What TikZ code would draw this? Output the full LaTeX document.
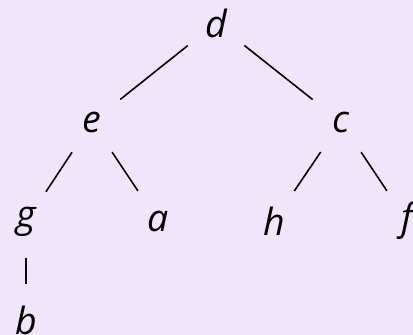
\documentclass[tikz,border=0pt]{standalone}
\usepackage{fontspec}
\setmainfont{Open Sans}
\definecolor{bgc}{RGB}{241,229,252}
\begin{document}
\begin{tikzpicture}[x=1pt,y=-1pt,
  vtx/.style={circle,minimum size=72pt,inner sep=0pt,font=\fontsize{37.5}{40}\selectfont\itshape},
  edg/.style={line width=1.6pt,black}]
\fill[bgc] (0,0) rectangle (413,335);
\useasboundingbox (0,0) rectangle (413,335);
\node[vtx] (d) at (216,23) {d};
\node[vtx] (e) at (92,122) {e};
\node[vtx] (c) at (341,122) {c};
\node[vtx] (g) at (26,222) {g};
\node[vtx] (a) at (158,221) {a};
\node[vtx] (h) at (274,221) {h};
\node[vtx] (f) at (407,221) {f};
\node[vtx] (b) at (26,320) {b};
\draw[edg] (d) -- (e);
\draw[edg] (d) -- (c);
\draw[edg] (e) -- (g);
\draw[edg] (e) -- (a);
\draw[edg] (c) -- (h);
\draw[edg] (c) -- (f);
\draw[edg] (g) -- (b);
\end{tikzpicture}
\end{document}
